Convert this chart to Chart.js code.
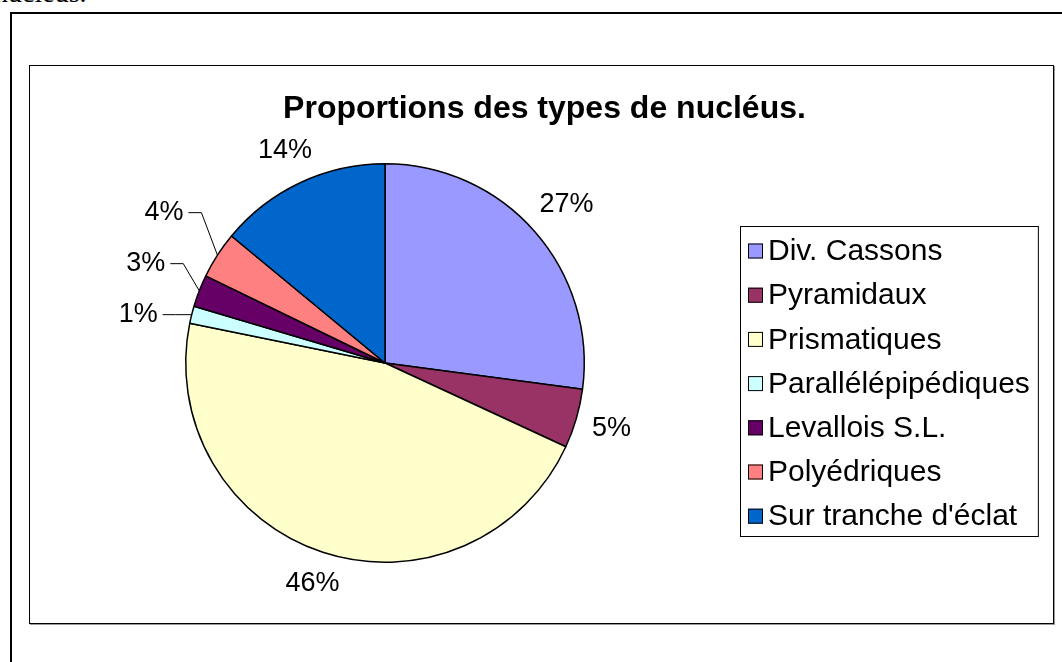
<!DOCTYPE html>
<html>
<head>
<meta charset="utf-8">
<script src="https://cdn.jsdelivr.net/npm/chart.js@4"></script>
<style>
  html, body { margin: 0; padding: 0; background: #fff; width: 1062px; height: 662px; overflow: hidden; }
  #doc { position: absolute; left: -6px; top: -23px; font: 28px "Liberation Serif", "Times New Roman", serif; color: #000; white-space: nowrap; }
  #frame { position: absolute; left: 10px; top: 12px; width: 1100px; height: 700px; border: 2px solid #000; }
  #box { position: absolute; left: 29px; top: 65px; width: 1023px; height: 557px; border: 1px solid #000; box-shadow: 1px 1px 0 #999; background: #fff; }
  #box canvas { display: block; }
</style>
</head>
<body>
<div id="doc">nucléus.</div>
<div id="frame"></div>
<div id="box"><canvas id="chart" width="1023" height="557"></canvas></div>
<script>
const categories = ['Div. Cassons', 'Pyramidaux', 'Prismatiques', 'Parallélépipédiques', 'Levallois S.L.', 'Polyédriques', "Sur tranche d'éclat"];
const shares = [27.1, 4.8, 46.3, 1.4, 2.6, 3.8, 14.0];
const colors = ['#9999FF', '#993366', '#FFFFCC', '#CCFFFF', '#660066', '#FF8080', '#0066CC'];
const chartTitle = 'Proportions des types de nucléus.';

const FONT = '"Liberation Sans", Arial, sans-serif';

// title centred on the whole plot box, not on the pie
const boxTitle = {
  id: 'boxTitle',
  afterDraw(chart) {
    const ctx = chart.ctx;
    ctx.save();
    ctx.font = 'bold 32px ' + FONT;
    ctx.fillStyle = '#000';
    ctx.textAlign = 'center';
    ctx.textBaseline = 'middle';
    ctx.fillText(chartTitle, chart.width / 2 + 3, 43);
    ctx.restore();
  }
};

// percentage labels, small slices get a leader line
const pctLabels = {
  id: 'pctLabels',
  afterDatasetsDraw(chart) {
    const ctx = chart.ctx;
    const meta = chart.getDatasetMeta(0);
    const vals = chart.data.datasets[0].data;
    const total = vals.reduce((a, b) => a + b, 0);
    ctx.save();
    ctx.font = '27px ' + FONT;
    ctx.fillStyle = '#000';
    ctx.strokeStyle = '#000';
    ctx.lineWidth = 1;
    ctx.textBaseline = 'middle';
    let prevY = Infinity;
    meta.data.forEach((arc, i) => {
      const share = vals[i] / total;
      const txt = Math.round(share * 100) + '%';
      const mid = (arc.startAngle + arc.endAngle) / 2;
      const r = arc.outerRadius;
      const cos = Math.cos(mid), sin = Math.sin(mid);
      if (share < 0.045) {
        const ex = arc.x + cos * r, ey = arc.y + sin * r;
        const y = Math.min(ey, prevY - 51);
        prevY = y;
        const right = ex - 34;
        ctx.textAlign = 'right';
        ctx.fillText(txt, right, y);
        ctx.beginPath();
        ctx.moveTo(right + 5, y);
        ctx.lineTo(right + 18, y);
        ctx.lineTo(ex, ey);
        ctx.stroke();
      } else {
        const w = ctx.measureText(txt).width;
        const off = 15 + Math.abs(cos) * w / 2 + Math.abs(sin) * 10;
        ctx.textAlign = 'center';
        ctx.fillText(txt, arc.x + cos * (r + off), arc.y + sin * (r + off));
      }
    });
    ctx.restore();
  }
};

// boxed legend on the right
const boxLegend = {
  id: 'boxLegend',
  afterDraw(chart) {
    const ctx = chart.ctx;
    const left = 710, top = 160, rowH = 44.2, sq = 15;
    ctx.save();
    ctx.font = '30px ' + FONT;
    const maxW = Math.max(...categories.map((c) => ctx.measureText(c).width));
    const width = 8 + sq + 5 + maxW + 8;
    const height = 310;
    ctx.fillStyle = '#fff';
    ctx.fillRect(left, top, width, height);
    ctx.strokeStyle = '#000';
    ctx.lineWidth = 1;
    ctx.strokeRect(left + 0.5, top + 0.5, width, height);
    ctx.textBaseline = 'middle';
    ctx.textAlign = 'left';
    categories.forEach((c, i) => {
      const cy = top + 25 + i * rowH;
      ctx.fillStyle = colors[i];
      ctx.fillRect(left + 8, cy - sq / 2, sq, sq);
      ctx.strokeRect(left + 8.5, cy - sq / 2 + 0.5, sq - 1, sq - 1);
      ctx.fillStyle = '#000';
      ctx.fillText(c, left + 8 + sq + 5, cy + 1);
    });
    ctx.restore();
  }
};

new Chart(document.getElementById('chart'), {
  type: 'pie',
  data: {
    labels: categories,
    datasets: [{
      data: shares,
      backgroundColor: colors,
      borderColor: '#000',
      borderWidth: 1.5,
    }],
  },
  options: {
    responsive: false,
    animation: false,
    events: [],
    layout: { padding: { left: 0, right: 313, top: 97, bottom: 60 } },
    plugins: {
      legend: { display: false },
      tooltip: { enabled: false },
      title: { display: false },
    },
  },
  plugins: [pctLabels, boxLegend, boxTitle],
});
</script>
</body>
</html>
